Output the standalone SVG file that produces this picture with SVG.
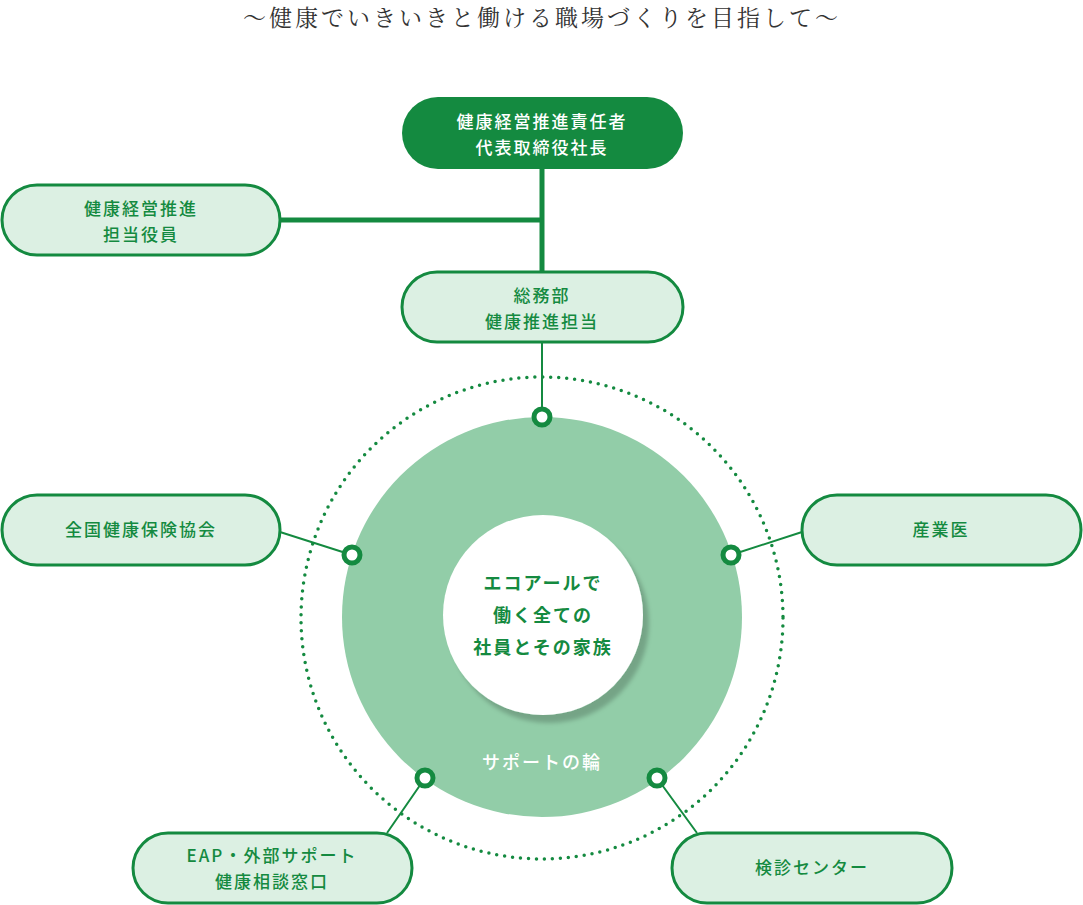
<svg xmlns="http://www.w3.org/2000/svg" width="1083" height="905" viewBox="0 0 1083 905">
<style>
.n{fill:#dcf0e3;stroke:#148a40;stroke-width:3}
.t{font-family:"Noto Sans CJK JP",sans-serif;font-size:17px;font-weight:500;fill:#148a40;text-anchor:middle;letter-spacing:2px}
.w{fill:#fff}
.c{stroke:#148a40;fill:none}
.m{fill:#fff;stroke:#148a40;stroke-width:5}
</style>
<defs><filter id="sh" x="-30%" y="-30%" width="160%" height="160%"><feDropShadow dx="6" dy="8" stdDev="8" flood-color="#000" flood-opacity="0.2"/></filter></defs>
<text x="542" y="26" font-family="Noto Serif CJK JP,Liberation Serif,serif" font-size="23" fill="#333" text-anchor="middle" letter-spacing="3">～健康でいきいきと働ける職場づくりを目指して～</text>
<circle cx="542" cy="618" r="241" fill="none" stroke="#148a40" stroke-width="3.5" stroke-dasharray="0 8" stroke-linecap="round"/>
<circle cx="542" cy="617" r="200" fill="#92cda8"/>
<circle cx="543" cy="615" r="100" fill="#fff" filter="url(#sh)"/>
<g id="connectors" class="c">
<path d="M542 169V272M280 220H542" stroke-width="5"/>
<path d="M542 342V417M280 532L352 555M802 532L731 555M387 833L425 778M697 833L657 778" stroke-width="2"/>
</g>
<g id="markers">
<circle class="m" cx="542" cy="417" r="8"/><circle class="m" cx="352" cy="555" r="8"/><circle class="m" cx="731" cy="555" r="8"/><circle class="m" cx="425" cy="778" r="8"/><circle class="m" cx="657" cy="778" r="8"/>
</g>
<g id="center" class="t" style="font-weight:700;font-size:18px">
<text x="543" y="590">エコアールで</text><text x="543" y="622">働く全ての</text><text x="543" y="654">社員とその家族</text>
</g>
<text x="542" y="769" class="t w" style="font-size:18px">サポートの輪</text>
<g id="top"><rect x="402" y="97" width="281" height="72" rx="36" fill="#148a40"/><text class="t w" x="542" y="128">健康経営推進責任者</text><text class="t w" x="542" y="154">代表取締役社長</text></g>
<g id="n1"><rect class="n" x="2" y="185" width="278" height="70" rx="35"/><text class="t" x="141" y="215">健康経営推進</text><text class="t" x="141" y="241">担当役員</text></g>
<g id="n2"><rect class="n" x="402" y="272" width="281" height="70" rx="35"/><text class="t" x="542" y="302">総務部</text><text class="t" x="542" y="328">健康推進担当</text></g>
<g id="n3"><rect class="n" x="2" y="495" width="278" height="70" rx="35"/><text class="t" x="141" y="536">全国健康保険協会</text></g>
<g id="n4"><rect class="n" x="802" y="495" width="279" height="70" rx="35"/><text class="t" x="941" y="536">産業医</text></g>
<g id="n5"><rect class="n" x="133" y="833" width="279" height="70" rx="35"/><text class="t" x="272" y="862">EAP・外部サポート</text><text class="t" x="272" y="888">健康相談窓口</text></g>
<g id="n6"><rect class="n" x="672" y="833" width="280" height="70" rx="35"/><text class="t" x="812" y="874">検診センター</text></g>
</svg>
